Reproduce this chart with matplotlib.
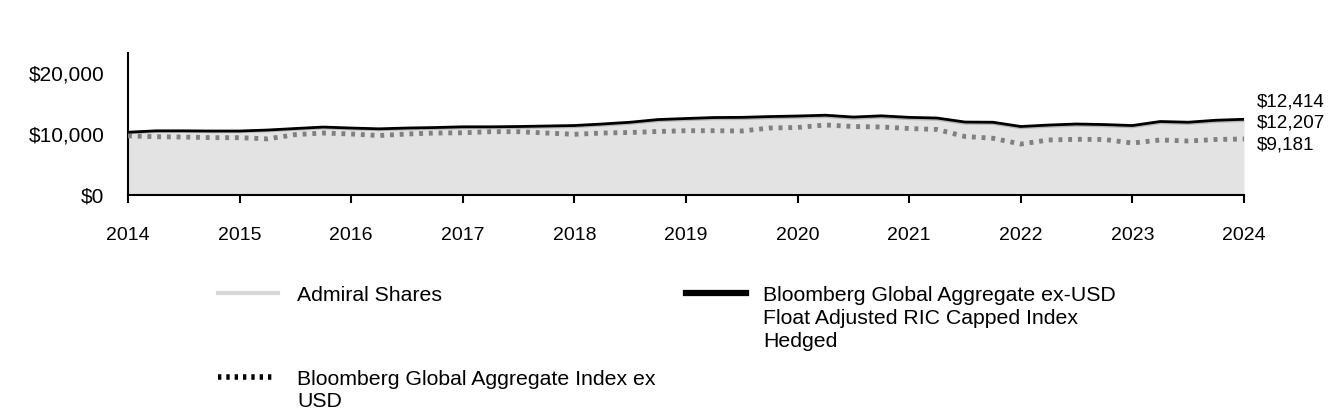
import matplotlib
matplotlib.use("Agg")
import matplotlib.pyplot as plt
from matplotlib.lines import Line2D
from matplotlib.ticker import FuncFormatter
import numpy as np

plt.rcParams['font.family'] = ['Liberation Sans', 'DejaVu Sans']

# Quarterly dates 2014 .. 2024
dates = [2014 + q / 4 for q in range(41)]

index_hedged = [10290, 10520, 10520, 10490, 10490, 10650, 10900, 11140, 10980, 10850,
                10980, 11060, 11180, 11180, 11230, 11310, 11390, 11640, 11930, 12370,
                12540, 12700, 12730, 12860, 12950, 13080, 12780, 12980, 12730, 12620,
                11960, 11930, 11230, 11470, 11640, 11550, 11390, 12050, 11930, 12260,
                12414]

admiral = [10200, 10420, 10420, 10380, 10380, 10530, 10770, 11000, 10840, 10710,
           10830, 10910, 11030, 11020, 11070, 11140, 11220, 11460, 11750, 12180,
           12350, 12500, 12530, 12660, 12750, 12870, 12580, 12770, 12520, 12410,
           11760, 11730, 11040, 11270, 11440, 11350, 11190, 11850, 11730, 12050,
           12207]

index_exusd = [9700, 9550, 9500, 9400, 9400, 9200, 9900, 10160, 10000, 9750,
               10000, 10160, 10200, 10380, 10380, 10160, 9950, 10160, 10250, 10410,
               10540, 10540, 10490, 10980, 11070, 11480, 11230, 11150, 10900, 10740,
               9590, 9300, 8360, 9020, 9130, 9100, 8520, 9020, 8850, 9100,
               9181]

end_labels = ["$12,414", "$12,207", "$9,181"]
year_ticks = list(range(2014, 2025))
y_ticks = [0, 10000, 20000]

legend_names = ["Admiral Shares",
                "Bloomberg Global Aggregate ex-USD\nFloat Adjusted RIC Capped Index\nHedged",
                "Bloomberg Global Aggregate Index ex\nUSD"]

W, H = 1344, 420
fig = plt.figure(figsize=(W / 100, H / 100), dpi=100)
ax = fig.add_axes([128 / W, 1 - 195 / H, (1244 - 128) / W, (195 - 53) / H])

ax.fill_between(dates, 0, admiral, color='#e3e3e3', lw=0, zorder=1)
ax.fill_between(dates, admiral, index_hedged, color='#a8a8a8', lw=0, zorder=2)
ax.plot(dates, admiral, color='#b5b5b5', lw=2.2, zorder=3, solid_joinstyle='round')
ax.plot(dates, index_exusd, color='#808080', lw=3.5, linestyle=(0, (0.8, 1.2)),
        dash_capstyle='butt', zorder=4)
ax.plot(dates, index_hedged, color='black', lw=2, zorder=5, solid_joinstyle='round')

ax.set_xlim(2014, 2024)
ax.set_ylim(0, 23280)
ax.set_xticks(year_ticks)
ax.set_xticklabels([str(y) for y in year_ticks], fontsize=14)
ax.set_yticks(y_ticks)
ax.yaxis.set_major_formatter(FuncFormatter(lambda v, p: "${:,.0f}".format(v)))
ax.tick_params(axis='y', length=0, labelsize=15, pad=17)
ax.tick_params(axis='x', length=6, width=1.5, direction='out', pad=17, labelsize=14)
for s in ['top', 'right']:
    ax.spines[s].set_visible(False)
ax.spines['left'].set_linewidth(1.5)
ax.spines['bottom'].set_linewidth(1.5)

# end value labels
label_y = [102, 123, 145]
for txt, yp in zip(end_labels, label_y):
    fig.text(1257 / W, 1 - yp / H, txt, fontsize=13.6, va='center', ha='left')

# legend
def handle(x0, x1, yp, **kw):
    fig.add_artist(Line2D([x0 / W, x1 / W], [1 - yp / H, 1 - yp / H],
                          transform=fig.transFigure, **kw))

def multiline(x, y0, text, step=23):
    for k, line in enumerate(text.split("\n")):
        fig.text(x / W, 1 - (y0 + 8 + k * step) / H, line, fontsize=15.3,
                 va='baseline', ha='left')

handle(218, 278, 293, color='#d9d9d9', lw=3)
handle(686, 746, 293, color='black', lw=4.5)
handle(218, 272, 377, color='black', lw=4, linestyle=(0, (0.6, 0.9)), dash_capstyle='butt')

multiline(297, 293, legend_names[0])
multiline(763, 293, legend_names[1])
multiline(297, 377, legend_names[2], step=22)

fig.savefig("out.png", dpi=100)
